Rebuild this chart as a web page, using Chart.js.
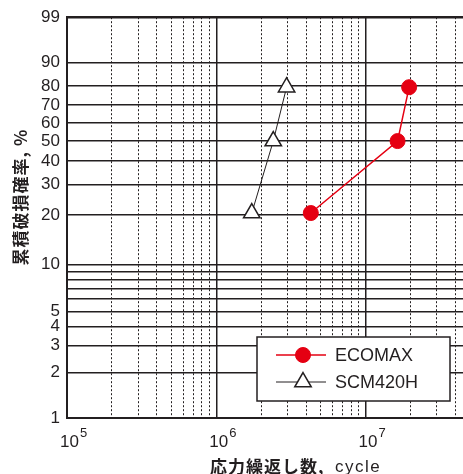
<!DOCTYPE html>
<html>
<head>
<meta charset="utf-8">
<script src="https://cdn.jsdelivr.net/npm/chart.js@4/dist/chart.umd.min.js"></script>
<style>
  html, body { margin: 0; padding: 0; background: #fff; }
  #wrap { width: 463px; height: 474px; position: relative; }
</style>
</head>
<body>
<div id="wrap"><canvas id="chart"></canvas></div>
<script>
// data (cycles, cumulative failure %)
const ecomaxCycles = [4.3e6, 1.64e7, 1.96e7];
const ecomaxProb = [20.6, 50, 79.4];
const scmCycles = [1.73e6, 2.41e6, 2.96e6];
const scmProb = [20.6, 50, 79.4];

const seriesNames = ['ECOMAX', 'SCM420H'];
const yTickLabels = [1, 2, 3, 4, 5, 10, 20, 30, 40, 50, 60, 70, 80, 90, 99];
const yGridOnly = [6, 7, 8, 9];
const xDecades = [1e5, 1e6, 1e7];

const INK = '#231f20';
const RED = '#e50012';

// weibull probability scale
function wb(p) { return Math.log(-Math.log(1 - p / 100)); }
function unwb(v) { return (1 - Math.exp(-Math.exp(v))) * 100; }

function toPoints(xs, ps) {
  return xs.map((x, i) => ({ x: x, y: wb(ps[i]) }));
}

function isDecade(v) {
  const l = Math.log10(v);
  return Math.abs(l - Math.round(l)) < 1e-6;
}

// titles, exponent labels and the legend box
const extras = {
  id: 'extras',
  afterDraw(chart) {
    const ctx = chart.ctx;
    const xs = chart.scales.x;
    ctx.save();
    ctx.fillStyle = INK;
    ctx.textBaseline = 'alphabetic';

    // x tick labels 10^n
    xDecades.forEach(v => {
      const px = xs.getPixelForValue(v);
      const exp = Math.round(Math.log10(v));
      ctx.font = '17px "Liberation Sans", Arial, sans-serif';
      ctx.textAlign = 'left';
      ctx.fillText('10', px - 7, 447);
      const w = ctx.measureText('10').width;
      ctx.font = '13px "Liberation Sans", Arial, sans-serif';
      ctx.fillText(String(exp), px - 7 + w + 1, 437);
    });

    // x title
    ctx.font = 'bold 17px "Noto Sans CJK JP", sans-serif';
    ctx.textAlign = 'left';
    ctx.textBaseline = 'middle';
    ctx.letterSpacing = '1px';
    ctx.fillText('応力繰返し数,', 210, 467);
    ctx.font = '17px "Liberation Sans", Arial, sans-serif';
    ctx.letterSpacing = '1.5px';
    ctx.fillText('cycle', 335, 467);
    ctx.letterSpacing = '0px';

    // y title
    ctx.save();
    ctx.translate(21, 197);
    ctx.rotate(-Math.PI / 2);
    ctx.textAlign = 'center';
    ctx.font = 'bold 17px "Noto Sans CJK JP", sans-serif';
    ctx.letterSpacing = '1px';
    ctx.fillText('累積破損確率, %', 0, 0);
    ctx.letterSpacing = '0px';
    ctx.restore();

    // legend
    const bx = 257, by = 337, bw = 193, bh = 64;
    ctx.fillStyle = '#fff';
    ctx.fillRect(bx, by, bw, bh);
    ctx.strokeStyle = INK;
    ctx.lineWidth = 1.5;
    ctx.strokeRect(bx, by, bw, bh);
    chart.data.datasets.forEach((ds, i) => {
      const y = by + 18 + i * 27;
      ctx.strokeStyle = ds.borderColor;
      ctx.lineWidth = ds.borderWidth;
      ctx.beginPath();
      ctx.moveTo(276, y);
      ctx.lineTo(326, y);
      ctx.stroke();
      ctx.fillStyle = ds.pointBackgroundColor;
      ctx.strokeStyle = ds.pointBorderColor;
      ctx.lineWidth = ds.pointBorderWidth;
      ctx.beginPath();
      if (ds.pointStyle === 'circle') {
        ctx.arc(303, y, ds.pointRadius, 0, Math.PI * 2);
      } else {
        const r = ds.pointRadius;
        ctx.moveTo(303, y - r);
        ctx.lineTo(303 + r * Math.cos(Math.PI / 6), y + r / 2);
        ctx.lineTo(303 - r * Math.cos(Math.PI / 6), y + r / 2);
        ctx.closePath();
      }
      ctx.fill();
      ctx.stroke();
      ctx.fillStyle = INK;
      ctx.font = '18px "Liberation Sans", Arial, sans-serif';
      ctx.textAlign = 'left';
      ctx.textBaseline = 'middle';
      ctx.fillText(ds.label, 335, y + 1);
    });
    ctx.restore();
  }
};

new Chart(document.getElementById('chart'), {
  type: 'line',
  data: {
    datasets: [
      {
        label: seriesNames[0],
        data: toPoints(ecomaxCycles, ecomaxProb),
        borderColor: RED,
        borderWidth: 1.5,
        pointStyle: 'circle',
        pointRadius: 7.5,
        pointBackgroundColor: RED,
        pointBorderColor: RED,
        pointBorderWidth: 1,
        tension: 0
      },
      {
        label: seriesNames[1],
        data: toPoints(scmCycles, scmProb),
        borderColor: INK,
        borderWidth: 1,
        pointStyle: 'triangle',
        pointRadius: 9.5,
        pointBackgroundColor: '#fff',
        pointBorderColor: INK,
        pointBorderWidth: 1.5,
        tension: 0
      }
    ]
  },
  options: {
    responsive: true,
    maintainAspectRatio: false,
    animation: false,
    layout: { autoPadding: false, padding: { top: 16, right: 0, left: 0, bottom: 0 } },
    plugins: { legend: { display: false }, tooltip: { enabled: false } },
    scales: {
      x: {
        type: 'logarithmic',
        min: 1e5,
        max: 4.5e7,
        afterBuildTicks(scale) {
          const t = [];
          [1e5, 1e6, 1e7].forEach(d => {
            for (let k = 1; k <= 9; k++) {
              const v = k * d;
              if (v >= 1e5 && v <= 4.5e7) t.push({ value: v });
            }
          });
          scale.ticks = t;
        },
        afterFit(scale) { scale.height = 56; },
        ticks: { display: false, autoSkip: false },
        grid: {
          drawTicks: false,
          color: INK,
          lineWidth: c => (c.tick && isDecade(c.tick.value)) ? 1.5 : 1
        },
        border: {
          display: true,
          color: INK,
          width: 2,
          dash: c => (c.tick && !isDecade(c.tick.value)) ? [2, 2] : []
        }
      },
      y: {
        type: 'linear',
        min: wb(1),
        max: wb(99),
        afterBuildTicks(scale) {
          scale.ticks = yTickLabels.concat(yGridOnly).map(p => ({ value: wb(p) }));
        },
        afterFit(scale) { scale.width = 67; },
        ticks: {
          autoSkip: false,
          padding: 7,
          color: INK,
          font: { family: '"Liberation Sans", Arial, sans-serif', size: 17 },
          callback(v) {
            const p = Math.round(unwb(v));
            return yTickLabels.includes(p) ? String(p) : '';
          }
        },
        grid: {
          drawTicks: false,
          color: INK,
          lineWidth: c => (c.tick && Math.round(unwb(c.tick.value)) === 99) ? 2.5 : 1.5
        },
        border: { display: true, color: INK, width: 2 }
      }
    }
  },
  plugins: [extras]
});
</script>
</body>
</html>
